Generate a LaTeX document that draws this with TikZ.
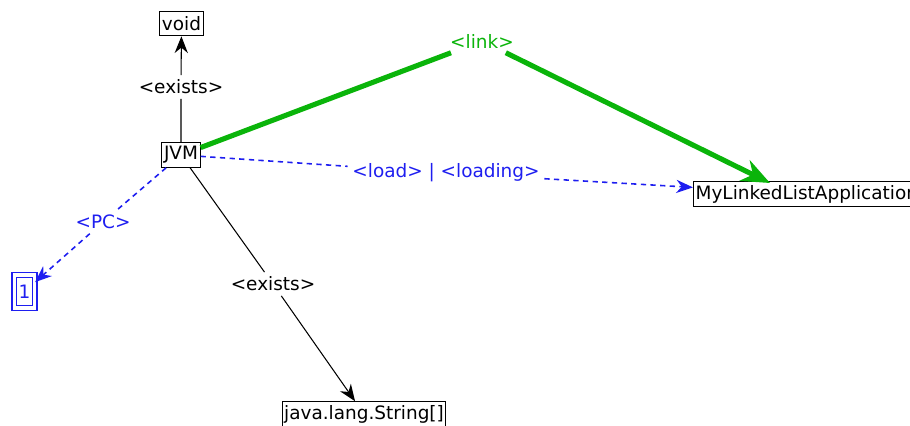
\documentclass[tikz,border=0pt]{standalone}
\usepackage{fontspec}
\setmainfont{DejaVu Sans}
\usetikzlibrary{arrows.meta}
\tikzset{>={Stealth[length=9.5pt,width=7.5pt]}}
\definecolor{linkgreen}{RGB}{10,180,10}
\definecolor{loadblue}{RGB}{30,30,240}
\tikzset{
  cls/.style={draw, line width=0.6pt, inner sep=1.2pt, minimum height=14pt, font=\fontsize{10.5}{12}\selectfont},
  lbl/.style={inner sep=2.5pt, font=\fontsize{10.5}{12}\selectfont},
  exists/.style={black, line width=0.6pt, ->},
  load/.style={loadblue, line width=0.9pt, dash pattern=on 3pt off 2.5pt, ->},
  link/.style={linkgreen, line width=2.9pt, -{Stealth[length=16pt,width=13pt]}}
}

\begin{document}
\begin{tikzpicture}[x=0.02cm, y=-0.02cm]
  \useasboundingbox (0,0) rectangle (910,426);
  % classes and values
  \node[cls] (jvm) at (181,155) {JVM};
  \node[cls] (void) at (181.5,23.5) {void};
  \node[cls, anchor=west] (app) at (693,194) {MyLinkedListApplication};
  \node[cls] (str) at (364,414) {java.lang.String[]};
  \node[cls, loadblue, double, double distance=2.2pt, inner sep=0pt,
        minimum width=11.4pt, minimum height=18.5pt] (one) at (24.5,291.5) {1};
  % relation names
  \node[lbl] (ex1) at (181,87) {<exists>};
  \node[lbl] (ex2) at (273,284) {<exists>};
  \node[lbl, linkgreen] (lnk) at (482,41) {<link>};
  \node[lbl, loadblue] (ld) at (446,173) {<load> | <loading>};
  \node[lbl, loadblue] (pc) at (103,222) {<PC>};
  \coordinate (appin) at (770,183);
  % relations
  \draw[exists] (jvm) -- (ex1) -- (void);
  \draw[exists] (jvm) -- (ex2) -- (str);
  \draw[link] (jvm) -- (lnk) -- (appin);
  \draw[load] (jvm) -- (ld) -- (app);
  \draw[load] (jvm) -- (pc) -- (one);
\end{tikzpicture}
\end{document}
